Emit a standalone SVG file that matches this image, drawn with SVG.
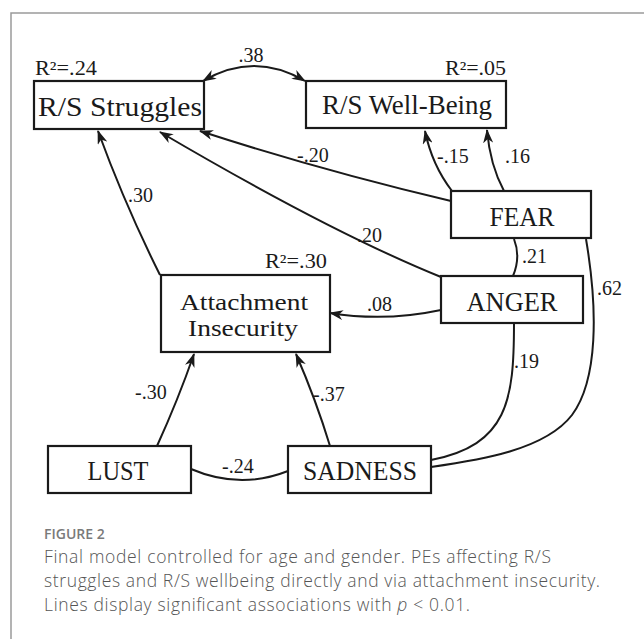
<svg xmlns="http://www.w3.org/2000/svg" width="644" height="639" viewBox="0 0 644 639">
<style>
.box{fill:#fff;stroke:#1a1a1a;stroke-width:2.2}
.nl{font-family:"Liberation Serif",serif;font-size:28px;fill:#1a1a1a;text-anchor:middle}
.el{font-family:"Liberation Serif",serif;font-size:20px;fill:#1a1a1a}
.c{fill:none;stroke:#1a1a1a;stroke-width:2}
.cap{font-family:"Open Sans",sans-serif;font-size:17.5px;font-weight:300;fill:#555}
</style>
<defs>
<marker id="ah" viewBox="0 0 14 10" refX="13" refY="5" markerWidth="14" markerHeight="10" markerUnits="userSpaceOnUse" orient="auto-start-reverse">
<path d="M0,0 L14,5 L0,10 L4,5 z" fill="#1a1a1a"/>
</marker>
</defs>
<rect width="644" height="639" fill="#fff"/>
<path d="M11,639 L11,13 L644,13" fill="none" stroke="#9a9a9a" stroke-width="1.5"/>

<g id="connectors">
<path class="c" d="M203,81 Q254,51 305,81" marker-start="url(#ah)" marker-end="url(#ah)"/>
<path class="c" d="M451,201 Q320,170 200,131" marker-end="url(#ah)"/>
<path class="c" d="M452,191 Q432,165 425,131" marker-end="url(#ah)"/>
<path class="c" d="M504,191 Q490,165 487,130" marker-end="url(#ah)"/>
<path class="c" d="M441,277 Q330,232 160,132" marker-end="url(#ah)"/>
<path class="c" d="M160,275 Q125,205 98,131" marker-end="url(#ah)"/>
<path class="c" d="M441,310 Q385,322 330,313" marker-end="url(#ah)"/>
<path class="c" d="M514,239 Q521,257 513,276"/>
<path class="c" d="M586,239 C598,310 598,380 572,415 C545,450 480,460 431,467"/>
<path class="c" d="M514,323 C514,400 508,445 431,460"/>
<path class="c" d="M191,469 Q240,490 288,471"/>
<path class="c" d="M157,446 Q178,400 194,354" marker-end="url(#ah)"/>
<path class="c" d="M330,446 Q316,400 296,354" marker-end="url(#ah)"/>
</g>

<g id="labels">
<text class="el" x="251" y="62" text-anchor="middle">.38</text>
<text class="el" x="297" y="162">-.20</text>
<text class="el" x="437" y="163">-.15</text>
<text class="el" x="505" y="163">.16</text>
<text class="el" x="128" y="202">.30</text>
<text class="el" x="357" y="242">.20</text>
<text class="el" x="522" y="263">.21</text>
<text class="el" x="597" y="295">.62</text>
<text class="el" x="367" y="311">.08</text>
<text class="el" x="514" y="368">.19</text>
<text class="el" x="135" y="399">-.30</text>
<text class="el" x="313" y="401">-.37</text>
<text class="el" x="222" y="473">-.24</text>
</g>

<g id="rs-struggles">
<rect class="box" x="34" y="81" width="170" height="48"/>
<text class="el" x="35" y="75" textLength="62" lengthAdjust="spacingAndGlyphs">R²=.24</text>
<text class="nl" x="120" y="116" textLength="164" lengthAdjust="spacingAndGlyphs">R/S Struggles</text>
</g>
<g id="rs-wellbeing">
<rect class="box" x="306" y="81" width="200" height="47"/>
<text class="el" x="506" y="75" text-anchor="end" textLength="61" lengthAdjust="spacingAndGlyphs">R²=.05</text>
<text class="nl" x="407" y="114" textLength="170" lengthAdjust="spacingAndGlyphs">R/S Well-Being</text>
</g>
<g id="fear">
<rect class="box" x="451" y="191" width="140" height="47"/>
<text class="nl" x="522" y="226" textLength="65" lengthAdjust="spacingAndGlyphs">FEAR</text>
</g>
<g id="anger">
<rect class="box" x="441" y="276" width="142" height="47"/>
<text class="nl" x="512" y="311" textLength="91" lengthAdjust="spacingAndGlyphs">ANGER</text>
</g>
<g id="attachment">
<rect class="box" x="161" y="275" width="169" height="77"/>
<text class="el" x="327" y="268" text-anchor="end" textLength="62" lengthAdjust="spacingAndGlyphs">R²=.30</text>
<text class="nl" x="244" y="310" style="font-size:23px" textLength="128" lengthAdjust="spacingAndGlyphs">Attachment</text>
<text class="nl" x="243" y="336" style="font-size:23px" textLength="110" lengthAdjust="spacingAndGlyphs">Insecurity</text>
</g>
<g id="lust">
<rect class="box" x="48" y="446" width="143" height="47"/>
<text class="nl" x="118" y="480" textLength="61" lengthAdjust="spacingAndGlyphs">LUST</text>
</g>
<g id="sadness">
<rect class="box" x="288" y="446" width="143" height="47"/>
<text class="nl" x="360" y="480" textLength="114" lengthAdjust="spacingAndGlyphs">SADNESS</text>
</g>

<g id="caption">
<text class="cap" x="44" y="539" style="font-size:14px;font-weight:600;fill:#7a7a7a">FIGURE 2</text>
<text class="cap" x="44" y="563" textLength="507" lengthAdjust="spacing">Final model controlled for age and gender. PEs affecting R/S</text>
<text class="cap" x="44" y="587" textLength="556" lengthAdjust="spacing">struggles and R/S wellbeing directly and via attachment insecurity.</text>
<text class="cap" x="44" y="611" textLength="426" lengthAdjust="spacing">Lines display significant associations with <tspan font-style="italic">p</tspan> &lt; 0.01.</text>
</g>
</svg>
